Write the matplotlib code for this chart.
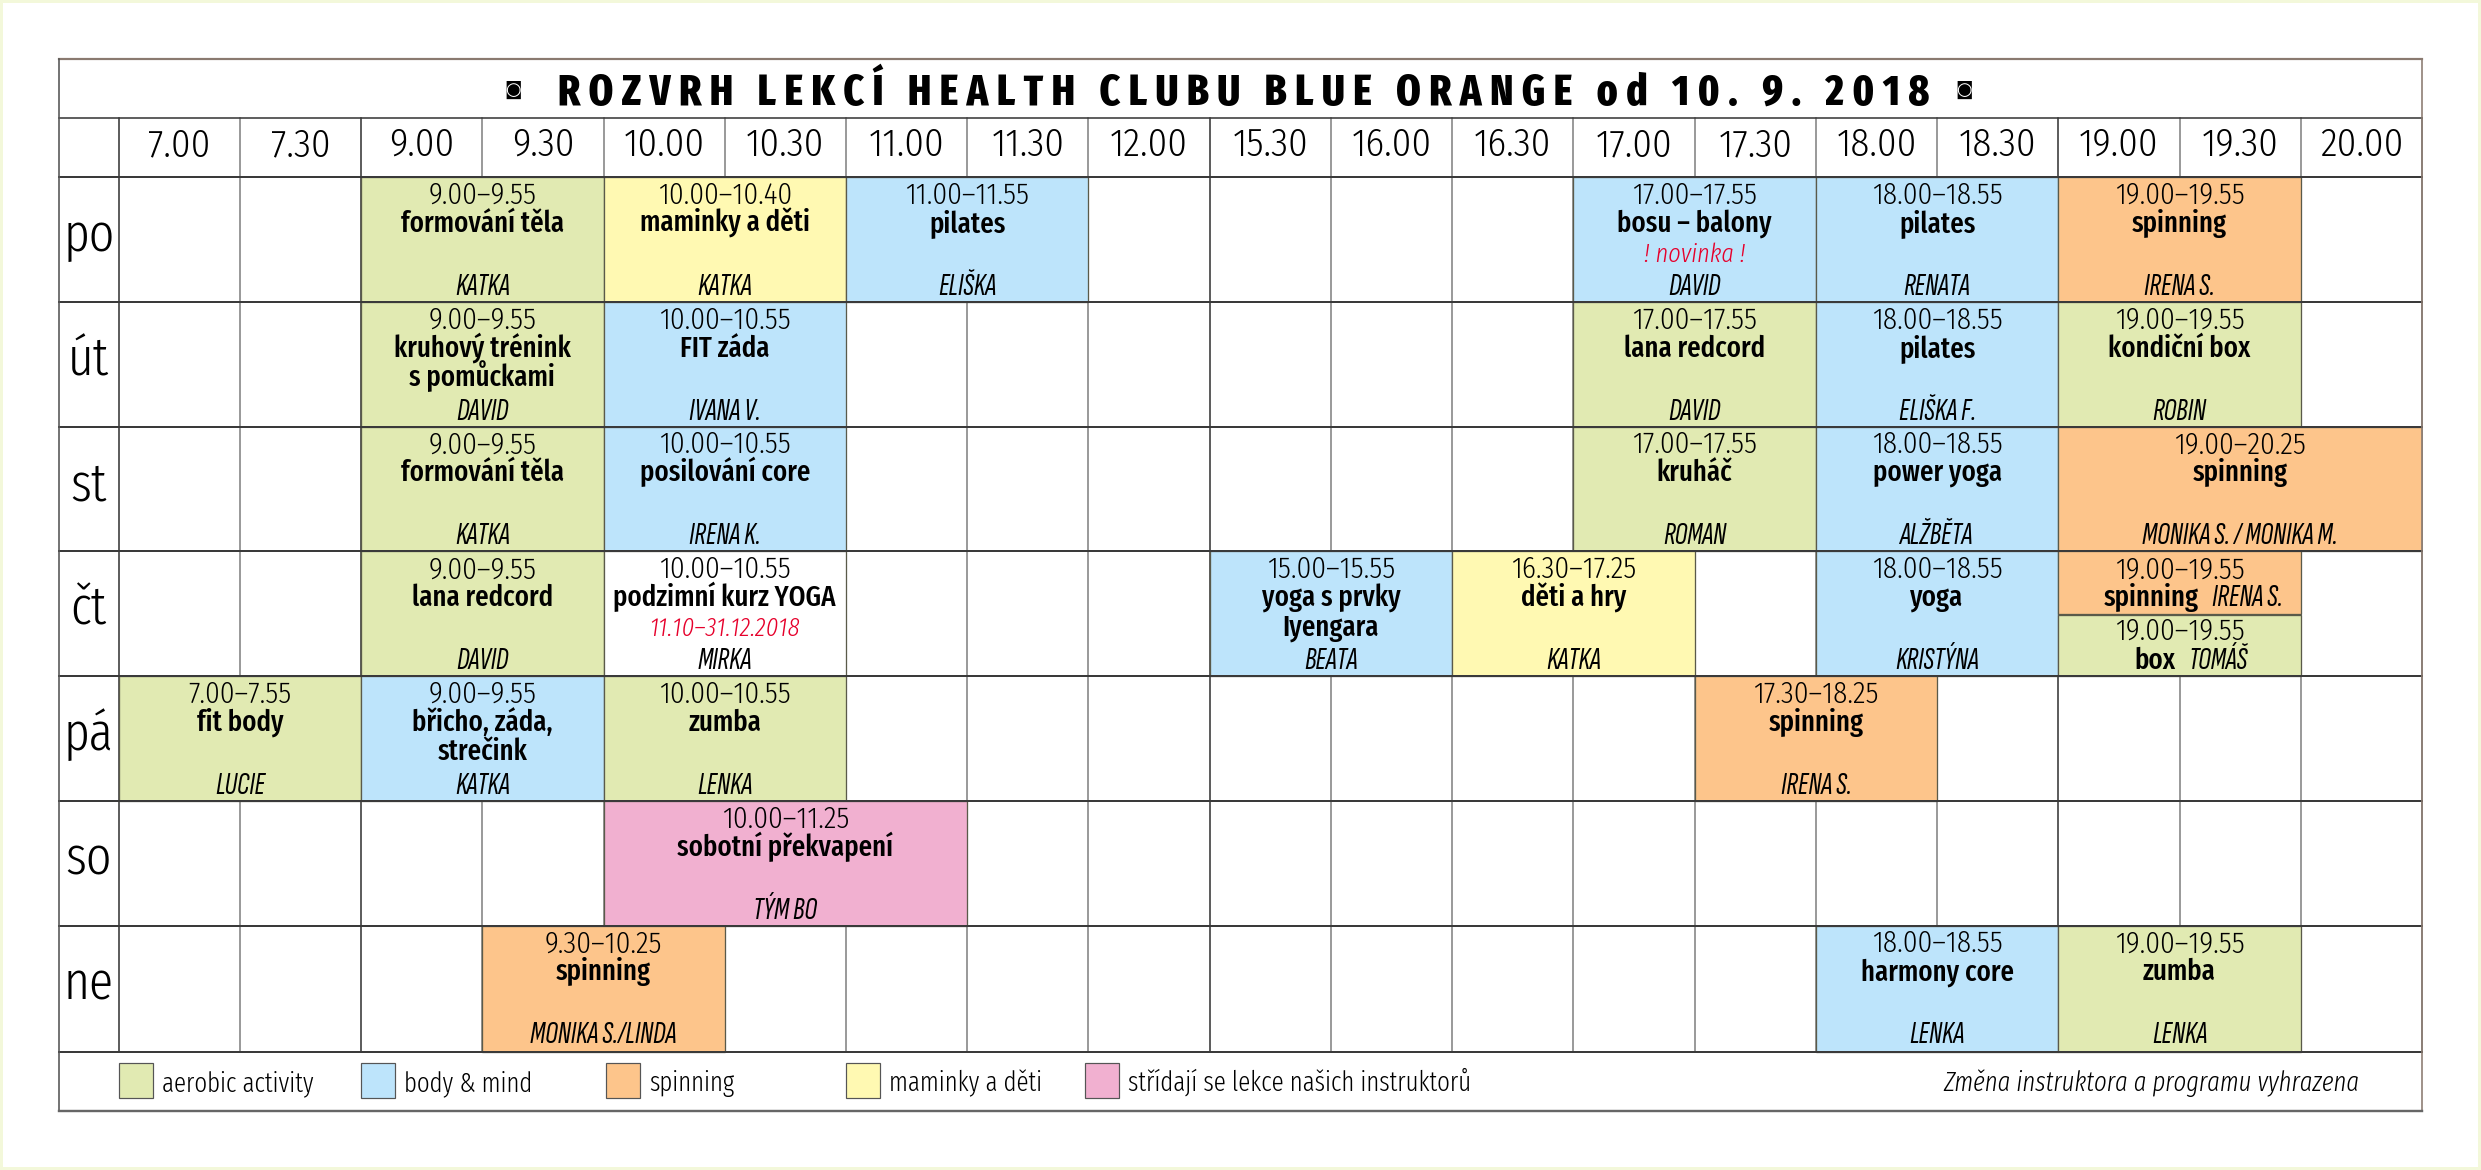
import matplotlib
matplotlib.use("Agg")
import matplotlib.pyplot as plt
from matplotlib.patches import Rectangle

FONT = ["Fira Sans Extra Condensed", "DejaVu Sans"]
TIME_FONT = ["Fira Sans Condensed", "DejaVu Sans"]
WHO_FONT = ["Sofia Sans Extra Condensed", "Fira Sans Extra Condensed", "DejaVu Sans"]

title = "ROZVRH LEKCÍ HEALTH CLUBU BLUE ORANGE od 10. 9. 2018"
columns = ["7.00", "7.30", "9.00", "9.30", "10.00", "10.30", "11.00", "11.30", "12.00", "15.30",
           "16.00", "16.30", "17.00", "17.30", "18.00", "18.30", "19.00", "19.30", "20.00"]
days = ["po", "út", "st", "čt", "pá", "so", "ne"]

colors = {"aerobic": "#E1EAB2", "body": "#BDE4FB", "spin": "#FDC58B",
          "kids": "#FFF9B2", "mix": "#F1B0D0", "none": "#FFFFFF"}

# first column, columns taken, kind, time, name lines, red note, instructor
po = [("9.00", 2, "aerobic", "9.00–9.55", ["formování těla"], "", "KATKA"),
      ("10.00", 2, "kids", "10.00–10.40", ["maminky a děti"], "", "KATKA"),
      ("11.00", 2, "body", "11.00–11.55", ["pilates"], "", "ELIŠKA"),
      ("17.00", 2, "body", "17.00–17.55", ["bosu – balony"], "! novinka !", "DAVID"),
      ("18.00", 2, "body", "18.00–18.55", ["pilates"], "", "RENATA"),
      ("19.00", 2, "spin", "19.00–19.55", ["spinning"], "", "IRENA S.")]
ut = [("9.00", 2, "aerobic", "9.00–9.55", ["kruhový trénink", "s pomůckami"], "", "DAVID"),
      ("10.00", 2, "body", "10.00–10.55", ["FIT záda"], "", "IVANA V."),
      ("17.00", 2, "aerobic", "17.00–17.55", ["lana redcord"], "", "DAVID"),
      ("18.00", 2, "body", "18.00–18.55", ["pilates"], "", "ELIŠKA F."),
      ("19.00", 2, "aerobic", "19.00–19.55", ["kondiční box"], "", "ROBIN")]
st = [("9.00", 2, "aerobic", "9.00–9.55", ["formování těla"], "", "KATKA"),
      ("10.00", 2, "body", "10.00–10.55", ["posilování core"], "", "IRENA K."),
      ("17.00", 2, "aerobic", "17.00–17.55", ["kruháč"], "", "ROMAN"),
      ("18.00", 2, "body", "18.00–18.55", ["power yoga"], "", "ALŽBĚTA"),
      ("19.00", 3, "spin", "19.00–20.25", ["spinning"], "", "MONIKA S. / MONIKA M.")]
ct = [("9.00", 2, "aerobic", "9.00–9.55", ["lana redcord"], "", "DAVID"),
      ("10.00", 2, "none", "10.00–10.55", ["podzimní kurz YOGA"], "11.10–31.12.2018", "MIRKA"),
      ("15.30", 2, "body", "15.00–15.55", ["yoga s prvky", "Iyengara"], "", "BEATA"),
      ("16.30", 2, "kids", "16.30–17.25", ["děti a hry"], "", "KATKA"),
      ("18.00", 2, "body", "18.00–18.55", ["yoga"], "", "KRISTÝNA")]
pa = [("7.00", 2, "aerobic", "7.00–7.55", ["fit body"], "", "LUCIE"),
      ("9.00", 2, "body", "9.00–9.55", ["břicho, záda,", "strečink"], "", "KATKA"),
      ("10.00", 2, "aerobic", "10.00–10.55", ["zumba"], "", "LENKA"),
      ("17.30", 2, "spin", "17.30–18.25", ["spinning"], "", "IRENA S.")]
so = [("10.00", 3, "mix", "10.00–11.25", ["sobotní překvapení"], "", "TÝM BO")]
ne = [("9.30", 2, "spin", "9.30–10.25", ["spinning"], "", "MONIKA S./LINDA"),
      ("18.00", 2, "body", "18.00–18.55", ["harmony core"], "", "LENKA"),
      ("19.00", 2, "aerobic", "19.00–19.55", ["zumba"], "", "LENKA")]
week = [po, ut, st, ct, pa, so, ne]

# the one cell on thursday that holds two lessons
split_top = ("19.00", 2, "spin", "19.00–19.55", "spinning", "IRENA S.")
split_bottom = ("19.00", 2, "aerobic", "19.00–19.55", "box", "TOMÁŠ")

legend_kinds = ["aerobic", "body", "spin", "kids", "mix"]
legend_labels = ["aerobic activity", "body & mind", "spinning", "maminky a děti",
                 "střídají se lekce našich instruktorů"]
legend_cols = [0, 2, 4.02, 6, 7.97]
footnote = "Změna instruktora a programu vyhrazena"

fig = plt.figure(figsize=(24.81, 11.7), dpi=100)
fig.patch.set_facecolor("white")
fig.patch.set_edgecolor("#F3F8DA")
fig.patch.set_linewidth(4)

# axes covers columns and rows only, header and legend lie around them in the same units
COL = 121.25
ROW = 124.75
BOTTOM = 7.014  # last row is a touch taller
ax = fig.add_axes([118.6 / 2481, 1 - 1111 / 1170, (2422 - 118.6) / 2481, (1111 - 59) / 1170])
label_w = (118.6 - 59) / COL
head_h = 59 / ROW
leg_h = 59 / ROW
ax.set_xlim(0, 19)
ax.set_ylim(BOTTOM + leg_h, -2 * head_h)
ax.axis("off")


def px(points):
    return points * 0.72


GRAY = "#7A7A7A"
DARK = "#2A2A2A"
dark_cols = [0, 2, 9, 16]

# grid
for c in range(0, 20):
    col = DARK if c in dark_cols else GRAY
    ax.plot([c, c], [-head_h, BOTTOM], color=col, lw=px(1.5), zorder=1, clip_on=False)


def draw_box(col, row, span, height, kind):
    ax.add_patch(Rectangle((col, row), span, height, facecolor=colors[kind],
                           edgecolor="#5A5A4A", lw=px(1.3), zorder=2))


def small(x, y, s, font=FONT, **kw):
    ax.text(x, y, s, family=font, ha=kw.pop("ha", "center"), va="baseline", zorder=5, clip_on=False, **kw)


def time_text(x, y, s):
    small(x, y, s, font=TIME_FONT, fontsize=21, weight=300)


def name_text(x, y, s, **kw):
    small(x, y, s, fontsize=21, weight=500, **kw)


def who_text(x, y, s, **kw):
    small(x, y, s, font=WHO_FONT, fontsize=23, style="italic", **kw)


for d, lessons in enumerate(week):
    for first, span, kind, time, names, note, who in lessons:
        c = columns.index(first)
        x = c + span / 2
        draw_box(c, d, span, (BOTTOM - d) if d == 6 else 1, kind)
        time_text(x, d + 0.216, time)
        name_text(x, d + 0.44, names[0])
        if len(names) > 1:
            name_text(x, d + 0.675, names[1])
        if note:
            small(x, d + 0.68, note, fontsize=19, weight=300, style="italic", color="#E6002B")
        who_text(x, d + 0.944, who)

# thursday split cell
r = days.index("čt")
c = columns.index(split_top[0])
draw_box(c, r, split_top[1], 0.5, split_top[2])
draw_box(c, r + 0.51, split_bottom[1], 0.49, split_bottom[2])
x = c + 1
time_text(x, r + 0.216, split_top[3])
name_text(c + 1.157, r + 0.44, split_top[4], ha="right")
who_text(c + 1.27, r + 0.44, split_top[5], ha="left")
time_text(x, r + 0.71, split_bottom[3])
name_text(c + 0.97, r + 0.944, split_bottom[4], ha="right")
who_text(c + 1.07, r + 0.944, split_bottom[5], ha="left")

# horizontal rules over the boxes
for row in list(range(0, 7)) + [BOTTOM]:
    ax.plot([-label_w, 19], [row, row], color="#3A3A3A", lw=px(2), zorder=3, clip_on=False)
ax.plot([-label_w, 19], [-head_h, -head_h], color="#3A3A3A", lw=px(1.6), zorder=3, clip_on=False)

# outer frame
ax.plot([-label_w, 19], [-2 * head_h, -2 * head_h], color="#8A7A70", lw=px(2.2), zorder=4, clip_on=False)
ax.plot([19, 19], [-2 * head_h, BOTTOM + leg_h], color="#8A7A70", lw=px(1.6), zorder=4, clip_on=False)
ax.plot([-label_w, -label_w], [-2 * head_h, BOTTOM + leg_h], color="#555555", lw=px(1.6), zorder=4, clip_on=False)
ax.plot([-label_w, 19], [BOTTOM + leg_h, BOTTOM + leg_h], color="#666666", lw=px(2.4), zorder=4, clip_on=False)

# title, letterspaced with thin spaces
spaced = "\u2009".join(title)
ax.text(9.5 - label_w / 2 + 0.03, -head_h - 13 / ROW, spaced, family=FONT, fontsize=30.6, weight=800,
        ha="center", va="baseline", clip_on=False, zorder=5)
for cx in [(513 - 118.6) / COL, (1964 - 118.6) / COL]:
    ax.text(cx, -head_h - 28 / ROW, "◙", family="DejaVu Sans", fontsize=13, ha="center", va="center", zorder=5)

# time header
for i, t in enumerate(columns):
    ax.text(i + 0.5, -21 / ROW, t, family=TIME_FONT, fontsize=28, weight=300, ha="center", va="baseline", zorder=5)

# day labels
for i, dname in enumerate(days):
    ax.text(-label_w / 2, i + 0.59, dname, family=FONT, fontsize=39, weight=300,
            ha="center", va="baseline", zorder=5, clip_on=False)

# legend
for kind, lab, lc in zip(legend_kinds, legend_labels, legend_cols):
    ax.add_patch(Rectangle((lc, BOTTOM + 11 / ROW), 34 / COL, 35 / ROW, facecolor=colors[kind],
                           edgecolor="#555555", lw=px(1.2), zorder=3, clip_on=False))
    ax.text(lc + 43 / COL, BOTTOM + 39 / ROW, lab, family=FONT, fontsize=19.5, weight=300,
            ha="left", va="baseline", zorder=5, clip_on=False)
ax.text((2360 - 118.6) / COL, BOTTOM + 39 / ROW, footnote, family=FONT, fontsize=19.4, weight=300, style="italic",
        ha="right", va="baseline", zorder=5, clip_on=False)

fig.savefig("out.png", dpi=100)
